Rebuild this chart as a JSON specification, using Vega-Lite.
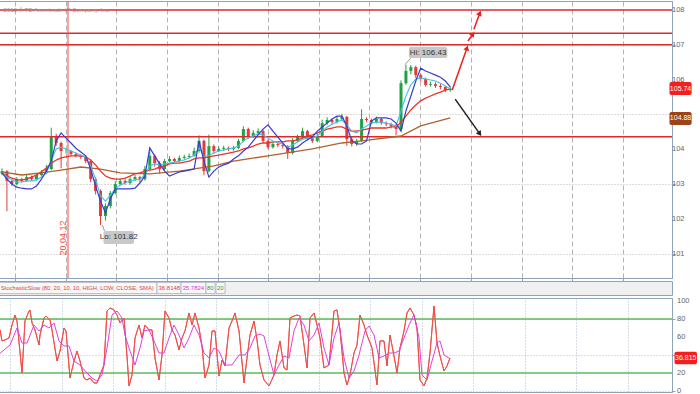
{
"$schema": "https://vega.github.io/schema/vega-lite/v6.json",
"padding": {"left": -5, "top": 0, "right": 0, "bottom": 0},
"background": "white",
"spacing": 3,
"bounds": "flush",
"config": {"font": "Liberation Sans, Arial, sans-serif", "view": {"stroke": null}},
"datasets": {
"px": [
{"i":0,"o":103.30,"h":103.45,"l":103.25,"c":103.37,"b":103.32,"cy":103.32,"r":103.32},
{"i":1,"o":103.37,"h":103.40,"l":102.22,"c":103.09,"b":103.14,"cy":103.20,"r":103.23},
{"i":2,"o":103.09,"h":103.12,"l":102.95,"c":103.00,"b":103.00,"cy":103.12,"r":103.17},
{"i":3,"o":103.00,"h":103.20,"l":102.96,"c":103.14,"b":102.91,"cy":103.06,"r":103.12},
{"i":4,"o":103.14,"h":103.18,"l":103.04,"c":103.09,"b":102.88,"cy":103.06,"r":103.12},
{"i":5,"o":103.09,"h":103.26,"l":103.06,"c":103.20,"b":102.86,"cy":103.09,"r":103.14},
{"i":6,"o":103.20,"h":103.24,"l":103.10,"c":103.14,"b":102.86,"cy":103.09,"r":103.20},
{"i":7,"o":103.14,"h":103.32,"l":103.10,"c":103.26,"b":102.94,"cy":103.12,"r":103.26},
{"i":8,"o":103.26,"h":103.40,"l":103.22,"c":103.32,"b":103.14,"cy":103.20,"r":103.35},
{"i":9,"o":103.32,"h":103.55,"l":103.28,"c":103.43,"b":103.37,"cy":103.32,"r":103.46},
{"i":10,"o":103.43,"h":104.62,"l":103.40,"c":104.38,"b":103.66,"cy":103.66,"r":103.60},
{"i":11,"o":104.38,"h":104.45,"l":104.10,"c":104.18,"b":104.24,"cy":104.01,"r":103.69},
{"i":12,"o":104.18,"h":104.22,"l":103.45,"c":103.95,"b":104.47,"cy":104.06,"r":103.75},
{"i":13,"o":103.95,"h":104.02,"l":103.88,"c":103.95,"b":104.32,"cy":104.01,"r":103.78},
{"i":14,"o":103.95,"h":103.98,"l":103.80,"c":103.86,"b":104.18,"cy":103.95,"r":103.81},
{"i":15,"o":103.86,"h":103.90,"l":103.76,"c":103.81,"b":104.03,"cy":103.89,"r":103.81},
{"i":16,"o":103.81,"h":103.86,"l":103.72,"c":103.78,"b":103.92,"cy":103.83,"r":103.81},
{"i":17,"o":103.78,"h":103.82,"l":103.60,"c":103.66,"b":103.81,"cy":103.78,"r":103.78},
{"i":18,"o":103.66,"h":103.70,"l":103.05,"c":103.14,"b":103.43,"cy":103.52,"r":103.69},
{"i":19,"o":103.14,"h":103.20,"l":102.70,"c":102.80,"b":102.94,"cy":103.14,"r":103.55},
{"i":20,"o":102.80,"h":102.85,"l":101.82,"c":102.08,"b":102.51,"cy":102.66,"r":103.37},
{"i":21,"o":102.08,"h":102.45,"l":101.95,"c":102.37,"b":102.17,"cy":102.51,"r":103.23},
{"i":22,"o":102.37,"h":102.80,"l":102.30,"c":102.74,"b":102.57,"cy":102.68,"r":103.17},
{"i":23,"o":102.74,"h":103.08,"l":102.70,"c":103.00,"b":102.86,"cy":102.86,"r":103.14},
{"i":24,"o":103.00,"h":103.15,"l":102.95,"c":103.09,"b":102.86,"cy":102.97,"r":103.14},
{"i":25,"o":103.09,"h":103.14,"l":102.98,"c":103.03,"b":102.86,"cy":103.03,"r":103.17},
{"i":26,"o":103.03,"h":103.20,"l":102.98,"c":103.14,"b":102.86,"cy":103.09,"r":103.23},
{"i":27,"o":103.14,"h":103.26,"l":103.08,"c":103.20,"b":102.88,"cy":103.12,"r":103.29},
{"i":28,"o":103.20,"h":103.24,"l":103.05,"c":103.14,"b":103.03,"cy":103.14,"r":103.32},
{"i":29,"o":103.14,"h":103.52,"l":103.10,"c":103.43,"b":103.23,"cy":103.26,"r":103.37},
{"i":30,"o":103.43,"h":104.05,"l":103.40,"c":103.81,"b":104.04,"cy":103.52,"r":103.40},
{"i":31,"o":103.81,"h":103.86,"l":103.50,"c":103.60,"b":103.81,"cy":103.58,"r":103.43},
{"i":32,"o":103.60,"h":103.66,"l":103.30,"c":103.43,"b":103.58,"cy":103.55,"r":103.49},
{"i":33,"o":103.43,"h":103.72,"l":103.40,"c":103.66,"b":103.37,"cy":103.58,"r":103.52},
{"i":34,"o":103.66,"h":103.80,"l":103.62,"c":103.72,"b":103.23,"cy":103.60,"r":103.58},
{"i":35,"o":103.72,"h":103.76,"l":103.60,"c":103.66,"b":103.29,"cy":103.63,"r":103.60},
{"i":36,"o":103.66,"h":103.82,"l":103.62,"c":103.75,"b":103.35,"cy":103.66,"r":103.60},
{"i":37,"o":103.75,"h":103.84,"l":103.70,"c":103.78,"b":103.37,"cy":103.69,"r":103.63},
{"i":38,"o":103.78,"h":103.88,"l":103.74,"c":103.81,"b":103.40,"cy":103.75,"r":103.66},
{"i":39,"o":103.81,"h":104.05,"l":103.78,"c":103.95,"b":103.43,"cy":103.83,"r":103.72},
{"i":40,"o":103.95,"h":104.40,"l":103.90,"c":104.24,"b":104.24,"cy":104.04,"r":103.75},
{"i":41,"o":104.24,"h":104.28,"l":103.25,"c":103.37,"b":103.66,"cy":103.78,"r":103.75},
{"i":42,"o":103.37,"h":104.42,"l":103.33,"c":104.09,"b":103.20,"cy":103.83,"r":103.78},
{"i":43,"o":104.09,"h":104.14,"l":103.88,"c":103.95,"b":103.37,"cy":103.89,"r":103.81},
{"i":44,"o":103.95,"h":104.08,"l":103.92,"c":104.01,"b":103.49,"cy":103.95,"r":103.83},
{"i":45,"o":104.01,"h":104.10,"l":103.96,"c":104.04,"b":103.55,"cy":103.98,"r":103.86},
{"i":46,"o":104.04,"h":104.08,"l":103.95,"c":104.01,"b":103.60,"cy":104.01,"r":103.89},
{"i":47,"o":104.01,"h":104.10,"l":103.96,"c":104.04,"b":103.72,"cy":104.04,"r":103.92},
{"i":48,"o":104.04,"h":104.30,"l":104.00,"c":104.24,"b":103.81,"cy":104.09,"r":103.95},
{"i":49,"o":104.24,"h":104.66,"l":104.20,"c":104.58,"b":103.95,"cy":104.24,"r":104.01},
{"i":50,"o":104.58,"h":104.62,"l":104.30,"c":104.38,"b":104.06,"cy":104.32,"r":104.04},
{"i":51,"o":104.38,"h":104.55,"l":104.33,"c":104.47,"b":104.24,"cy":104.38,"r":104.09},
{"i":52,"o":104.47,"h":104.60,"l":104.42,"c":104.52,"b":104.41,"cy":104.44,"r":104.15},
{"i":53,"o":104.52,"h":104.56,"l":104.18,"c":104.24,"b":104.58,"cy":104.41,"r":104.18},
{"i":54,"o":104.24,"h":104.28,"l":104.00,"c":104.06,"b":104.70,"cy":104.32,"r":104.18},
{"i":55,"o":104.06,"h":104.22,"l":104.02,"c":104.15,"b":104.52,"cy":104.24,"r":104.21},
{"i":56,"o":104.15,"h":104.20,"l":104.06,"c":104.12,"b":104.35,"cy":104.18,"r":104.21},
{"i":57,"o":104.12,"h":104.16,"l":104.02,"c":104.09,"b":104.18,"cy":104.15,"r":104.21},
{"i":58,"o":104.09,"h":104.12,"l":103.72,"c":103.89,"b":104.01,"cy":104.06,"r":104.24},
{"i":59,"o":103.89,"h":104.32,"l":103.85,"c":104.24,"b":104.01,"cy":104.12,"r":104.24},
{"i":60,"o":104.24,"h":104.42,"l":104.20,"c":104.35,"b":104.06,"cy":104.21,"r":104.27},
{"i":61,"o":104.35,"h":104.62,"l":104.30,"c":104.52,"b":104.18,"cy":104.29,"r":104.32},
{"i":62,"o":104.52,"h":104.56,"l":104.25,"c":104.32,"b":104.27,"cy":104.32,"r":104.38},
{"i":63,"o":104.32,"h":104.38,"l":104.18,"c":104.24,"b":104.35,"cy":104.32,"r":104.41},
{"i":64,"o":104.24,"h":104.46,"l":104.20,"c":104.38,"b":104.52,"cy":104.38,"r":104.47},
{"i":65,"o":104.38,"h":104.85,"l":104.35,"c":104.75,"b":104.64,"cy":104.52,"r":104.52},
{"i":66,"o":104.75,"h":104.92,"l":104.70,"c":104.84,"b":104.75,"cy":104.64,"r":104.58},
{"i":67,"o":104.84,"h":104.88,"l":104.72,"c":104.78,"b":104.87,"cy":104.72,"r":104.61},
{"i":68,"o":104.78,"h":104.95,"l":104.74,"c":104.87,"b":104.95,"cy":104.78,"r":104.64},
{"i":69,"o":104.87,"h":105.02,"l":104.82,"c":104.93,"b":104.95,"cy":104.84,"r":104.64},
{"i":70,"o":104.93,"h":104.96,"l":104.10,"c":104.29,"b":104.67,"cy":104.70,"r":104.58},
{"i":71,"o":104.29,"h":104.35,"l":104.08,"c":104.15,"b":104.24,"cy":104.52,"r":104.52},
{"i":72,"o":104.15,"h":104.30,"l":104.10,"c":104.24,"b":104.15,"cy":104.47,"r":104.52},
{"i":73,"o":104.24,"h":105.15,"l":104.20,"c":104.87,"b":104.15,"cy":104.58,"r":104.55},
{"i":74,"o":104.87,"h":104.92,"l":104.78,"c":104.84,"b":104.24,"cy":104.67,"r":104.58},
{"i":75,"o":104.84,"h":104.88,"l":104.72,"c":104.78,"b":104.81,"cy":104.75,"r":104.61},
{"i":76,"o":104.78,"h":104.94,"l":104.74,"c":104.87,"b":104.90,"cy":104.78,"r":104.61},
{"i":77,"o":104.87,"h":104.90,"l":104.70,"c":104.75,"b":104.90,"cy":104.78,"r":104.61},
{"i":78,"o":104.75,"h":104.80,"l":104.66,"c":104.72,"b":104.90,"cy":104.75,"r":104.61},
{"i":79,"o":104.72,"h":104.76,"l":104.60,"c":104.67,"b":104.87,"cy":104.72,"r":104.64},
{"i":80,"o":104.67,"h":104.72,"l":104.40,"c":104.58,"b":104.75,"cy":104.67,"r":104.64},
{"i":81,"o":104.58,"h":105.98,"l":104.55,"c":105.90,"b":104.52,"cy":105.10,"r":104.78},
{"i":82,"o":105.90,"h":106.43,"l":105.85,"c":106.25,"b":105.10,"cy":105.53,"r":104.95},
{"i":83,"o":106.25,"h":106.42,"l":106.15,"c":106.36,"b":105.53,"cy":105.85,"r":105.13},
{"i":84,"o":106.36,"h":106.40,"l":106.05,"c":106.13,"b":105.96,"cy":106.02,"r":105.27},
{"i":85,"o":106.13,"h":106.18,"l":105.95,"c":106.02,"b":106.33,"cy":106.05,"r":105.39},
{"i":86,"o":106.02,"h":106.06,"l":105.80,"c":105.85,"b":106.25,"cy":106.02,"r":105.47},
{"i":87,"o":105.85,"h":105.94,"l":105.80,"c":105.87,"b":106.19,"cy":105.99,"r":105.53},
{"i":88,"o":105.87,"h":105.92,"l":105.76,"c":105.82,"b":106.13,"cy":105.96,"r":105.59},
{"i":89,"o":105.82,"h":105.88,"l":105.72,"c":105.79,"b":106.07,"cy":105.90,"r":105.64},
{"i":90,"o":105.79,"h":105.82,"l":105.64,"c":105.70,"b":105.96,"cy":105.82,"r":105.70},
{"i":91,"o":105.70,"h":105.80,"l":105.65,"c":105.74,"b":105.79,"cy":105.73,"r":105.73}
],
"brown": [
{"i":0,"v":103.35},{"i":4,"v":103.26},{"i":8,"v":103.32},{"i":12,"v":103.40},{"i":16,"v":103.49},{"i":20,"v":103.43},{"i":24,"v":103.32},{"i":30,"v":103.29},{"i":36,"v":103.37},{"i":43,"v":103.52},{"i":47,"v":103.66},{"i":54,"v":103.81},{"i":63,"v":104.01},{"i":69,"v":104.18},{"i":73,"v":104.24},{"i":81,"v":104.38},{"i":85,"v":104.67},{"i":91,"v":104.90}
],
"k": [
{"t":0,"v":47.8},{"t":0.6,"v":67.8},{"t":1.0,"v":55.6},{"t":1.6,"v":56.7},{"t":2.4,"v":58.9},{"t":3.0,"v":73.3},{"t":3.6,"v":84.4},{"t":4.0,"v":77.8},{"t":5.0,"v":20.0},{"t":5.6,"v":77.8},{"t":6.4,"v":88.9},{"t":6.6,"v":90.0},{"t":7.0,"v":75.6},{"t":7.6,"v":67.8},{"t":8.4,"v":51.1},{"t":8.6,"v":62.2},{"t":9.4,"v":81.1},{"t":9.8,"v":83.3},{"t":10.6,"v":78.9},{"t":11.0,"v":67.8},{"t":12.0,"v":33.3},{"t":12.6,"v":44.4},{"t":13.4,"v":70.0},{"t":13.8,"v":66.7},{"t":14.6,"v":14.4},{"t":15.4,"v":33.3},{"t":16.0,"v":44.4},{"t":16.6,"v":33.3},{"t":17.4,"v":14.4},{"t":18.0,"v":12.2},{"t":18.6,"v":14.4},{"t":19.4,"v":8.9},{"t":20.0,"v":8.9},{"t":20.6,"v":17.8},{"t":21.4,"v":28.9},{"t":22.0,"v":88.9},{"t":22.6,"v":92.2},{"t":23.4,"v":90.0},{"t":24.0,"v":84.4},{"t":24.6,"v":75.6},{"t":25.4,"v":81.1},{"t":26.0,"v":38.9},{"t":26.4,"v":5.6},{"t":27.0,"v":17.8},{"t":27.6,"v":58.9},{"t":28.4,"v":73.3},{"t":29.0,"v":58.9},{"t":29.6,"v":73.3},{"t":30.4,"v":67.8},{"t":31.0,"v":67.8},{"t":31.6,"v":36.7},{"t":32.4,"v":12.2},{"t":33.0,"v":40.0},{"t":33.6,"v":88.9},{"t":34.4,"v":81.1},{"t":35.0,"v":67.8},{"t":35.6,"v":62.2},{"t":36.4,"v":45.6},{"t":37.0,"v":58.9},{"t":37.6,"v":66.7},{"t":38.4,"v":86.7},{"t":39.0,"v":73.3},{"t":39.6,"v":86.7},{"t":40.4,"v":70.0},{"t":41.0,"v":50.0},{"t":41.6,"v":14.4},{"t":42.4,"v":28.9},{"t":43.0,"v":66.7},{"t":43.6,"v":66.7},{"t":44.4,"v":16.7},{"t":45.0,"v":34.4},{"t":45.6,"v":27.8},{"t":46.4,"v":70.0},{"t":47.0,"v":77.8},{"t":47.6,"v":86.7},{"t":48.4,"v":66.7},{"t":49.4,"v":8.9},{"t":50.0,"v":36.7},{"t":50.6,"v":62.2},{"t":51.4,"v":77.8},{"t":52.0,"v":56.7},{"t":52.6,"v":28.9},{"t":53.4,"v":12.2},{"t":54.4,"v":5.6},{"t":55.4,"v":17.8},{"t":56.0,"v":40.0},{"t":56.6,"v":55.6},{"t":57.4,"v":25.6},{"t":58.0,"v":23.3},{"t":58.6,"v":81.1},{"t":59.4,"v":83.3},{"t":60.0,"v":84.4},{"t":60.6,"v":83.3},{"t":61.4,"v":51.1},{"t":62.0,"v":25.6},{"t":62.6,"v":81.1},{"t":63.4,"v":86.7},{"t":64.0,"v":73.3},{"t":64.6,"v":58.9},{"t":65.4,"v":25.6},{"t":66.4,"v":28.9},{"t":67.4,"v":88.9},{"t":68.0,"v":90.0},{"t":68.6,"v":67.8},{"t":69.4,"v":20.0},{"t":70.0,"v":6.7},{"t":70.6,"v":17.8},{"t":71.4,"v":42.2},{"t":72.0,"v":51.1},{"t":72.6,"v":84.4},{"t":73.4,"v":73.3},{"t":74.0,"v":62.2},{"t":75.0,"v":47.8},{"t":76.0,"v":6.7},{"t":76.6,"v":55.6},{"t":77.4,"v":55.6},{"t":78.0,"v":27.8},{"t":78.6,"v":62.2},{"t":79.4,"v":38.9},{"t":80.0,"v":20.0},{"t":80.6,"v":47.8},{"t":81.4,"v":66.7},{"t":82.0,"v":86.7},{"t":82.6,"v":92.2},{"t":83.4,"v":84.4},{"t":84.0,"v":70.0},{"t":84.6,"v":12.2},{"t":85.4,"v":5.6},{"t":86.0,"v":14.4},{"t":86.6,"v":42.2},{"t":87.4,"v":94.4},{"t":88.0,"v":53.3},{"t":88.6,"v":38.9},{"t":89.4,"v":22.2},{"t":90.0,"v":27.8},{"t":90.6,"v":36.8}
],
"d": [
{"t":0,"v":38.9},{"t":1.4,"v":45.6},{"t":2.6,"v":51.1},{"t":4.0,"v":70.0},{"t":5.0,"v":53.3},{"t":6.0,"v":53.3},{"t":7.4,"v":73.3},{"t":8.4,"v":66.7},{"t":9.4,"v":73.3},{"t":10.4,"v":70.0},{"t":11.4,"v":75.6},{"t":12.4,"v":55.6},{"t":13.4,"v":50.0},{"t":14.4,"v":50.0},{"t":15.4,"v":33.3},{"t":16.6,"v":28.9},{"t":18.0,"v":20.0},{"t":19.0,"v":14.4},{"t":20.0,"v":11.1},{"t":21.0,"v":17.8},{"t":22.0,"v":47.8},{"t":23.0,"v":84.4},{"t":24.0,"v":88.9},{"t":25.0,"v":81.1},{"t":25.6,"v":62.2},{"t":26.6,"v":44.4},{"t":27.6,"v":28.9},{"t":28.6,"v":47.8},{"t":29.4,"v":66.7},{"t":30.4,"v":67.8},{"t":31.4,"v":55.6},{"t":32.4,"v":42.2},{"t":33.4,"v":42.2},{"t":34.4,"v":58.9},{"t":35.4,"v":73.3},{"t":36.4,"v":62.2},{"t":37.4,"v":47.8},{"t":38.4,"v":58.9},{"t":39.4,"v":73.3},{"t":40.4,"v":62.2},{"t":41.4,"v":42.2},{"t":42.4,"v":36.7},{"t":43.4,"v":47.8},{"t":44.4,"v":44.4},{"t":45.6,"v":28.9},{"t":47.0,"v":28.9},{"t":48.4,"v":40.0},{"t":49.6,"v":40.0},{"t":50.6,"v":47.8},{"t":51.6,"v":61.1},{"t":52.6,"v":63.3},{"t":53.4,"v":61.1},{"t":54.4,"v":38.9},{"t":55.4,"v":17.8},{"t":56.4,"v":28.9},{"t":57.4,"v":38.9},{"t":58.4,"v":36.7},{"t":59.4,"v":66.7},{"t":60.4,"v":81.1},{"t":61.4,"v":73.3},{"t":62.4,"v":55.6},{"t":63.4,"v":62.2},{"t":64.4,"v":75.6},{"t":65.4,"v":47.8},{"t":66.4,"v":28.9},{"t":67.4,"v":58.9},{"t":68.4,"v":75.6},{"t":69.4,"v":36.7},{"t":70.4,"v":14.4},{"t":71.4,"v":22.2},{"t":72.4,"v":40.0},{"t":73.6,"v":66.7},{"t":74.4,"v":72.2},{"t":75.4,"v":62.2},{"t":76.4,"v":36.7},{"t":77.4,"v":38.9},{"t":78.4,"v":42.2},{"t":79.4,"v":42.2},{"t":80.4,"v":44.4},{"t":81.4,"v":58.9},{"t":82.4,"v":73.3},{"t":83.4,"v":84.4},{"t":84.4,"v":58.9},{"t":85.0,"v":17.8},{"t":86.0,"v":12.2},{"t":87.0,"v":33.3},{"t":88.0,"v":53.3},{"t":88.6,"v":55.6},{"t":89.4,"v":40.0},{"t":90.6,"v":35.8}
]
},
"vconcat": [
{
"width": 675, "height": 277,
"view": {"stroke": "#8fa3bd"},
"layer": [
{"data": {"name": "px"}, "mark": {"type": "rule", "strokeWidth": 1, "clip": true},
 "encoding": {
  "x": {"field": "i", "type": "quantitative", "scale": {"domain": [0, 135], "nice": false, "zero": false},
        "axis": {"orient": "bottom", "values": [2.6, 12.9, 23.2, 33.5, 43.8, 54.1, 64.3, 74.6, 84.9, 95.2, 105.5, 115.8, 126.1], "grid": true, "gridDash": [5, 3], "gridColor": "#b4b4b4", "labels": false, "ticks": true, "tickSize": 3, "tickColor": "#8fa3bd", "domainColor": "#8fa3bd", "title": null}},
  "y": {"field": "l", "type": "quantitative", "scale": {"domain": [100.3, 108.26], "nice": false, "zero": false},
        "axis": {"orient": "right", "values": [101, 102, 103, 104, 105, 106, 107, 108], "labels": false, "grid": true, "gridDash": [1, 2], "gridColor": "#b8b8b8", "domainColor": "#8fa3bd", "tickColor": "#8fa3bd", "tickSize": 3, "title": null}},
  "y2": {"field": "h"},
  "color": {"condition": {"test": "datum.c >= datum.o", "value": "#22a045"}, "value": "#e23b3b"}
 }},
{"data": {"name": "px"}, "mark": {"type": "bar", "width": 3, "clip": true},
 "encoding": {
  "x": {"field": "i", "type": "quantitative", "axis": {"orient": "bottom"}},
  "y": {"field": "o", "type": "quantitative", "axis": {"orient": "right"}},
  "y2": {"field": "c"},
  "color": {"condition": {"test": "datum.c >= datum.o", "value": "#22a045"}, "value": "#e23b3b"}
 }},
{"data": {"values": [{"y": 108.0}, {"y": 107.33}, {"y": 107.0}, {"y": 104.36}]}, "mark": {"type": "rule", "color": "#e02828", "strokeWidth": 1.5},
 "encoding": {"y": {"field": "y", "type": "quantitative", "axis": {"orient": "right"}}}},
{"data": {"values": [{"t": 13.4}]}, "mark": {"type": "rule", "color": "#f04848", "strokeWidth": 1},
 "encoding": {"x": {"field": "t", "type": "quantitative", "axis": {"orient": "bottom"}}}},
{"data": {"name": "brown"}, "mark": {"type": "line", "color": "#b0612e", "strokeWidth": 1.3, "clip": true},
 "encoding": {"x": {"field": "i", "type": "quantitative", "axis": {"orient": "bottom"}}, "y": {"field": "v", "type": "quantitative", "axis": {"orient": "right"}}}},
{"data": {"name": "px"}, "mark": {"type": "line", "color": "#e8342c", "strokeWidth": 1.3, "clip": true},
 "encoding": {"x": {"field": "i", "type": "quantitative", "axis": {"orient": "bottom"}}, "y": {"field": "r", "type": "quantitative", "axis": {"orient": "right"}}}},
{"data": {"name": "px"}, "mark": {"type": "line", "color": "#40c4e4", "strokeWidth": 1.1, "clip": true},
 "encoding": {"x": {"field": "i", "type": "quantitative", "axis": {"orient": "bottom"}}, "y": {"field": "cy", "type": "quantitative", "axis": {"orient": "right"}}}},
{"data": {"name": "px"}, "mark": {"type": "line", "color": "#3b3bd0", "strokeWidth": 1.2, "clip": true},
 "encoding": {"x": {"field": "i", "type": "quantitative", "axis": {"orient": "bottom"}}, "y": {"field": "b", "type": "quantitative", "axis": {"orient": "right"}}}},
{"data": {"values": [
  {"x": 91.4, "y": 105.70, "x2": 94.4, "y2": 106.91, "col": "#e8201c"},
  {"x": 94.6, "y": 107.11, "x2": 95.6, "y2": 107.31, "col": "#e8201c"},
  {"x": 95.8, "y": 107.45, "x2": 97.0, "y2": 107.91, "col": "#e8201c"},
  {"x": 92.0, "y": 105.44, "x2": 97.0, "y2": 104.44, "col": "#222222"}]},
 "mark": {"type": "rule", "strokeWidth": 1.5},
 "encoding": {
  "x": {"field": "x", "type": "quantitative", "axis": {"orient": "bottom"}}, "x2": {"field": "x2"},
  "y": {"field": "y", "type": "quantitative", "axis": {"orient": "right"}}, "y2": {"field": "y2"},
  "color": {"field": "col", "type": "nominal", "scale": null}}},
{"data": {"values": [
  {"x": 94.4, "y": 106.91, "a": 19, "col": "#e8201c"},
  {"x": 95.6, "y": 107.31, "a": 35, "col": "#e8201c"},
  {"x": 97.0, "y": 107.91, "a": 24, "col": "#e8201c"},
  {"x": 97.0, "y": 104.44, "a": 144, "col": "#222222"}]},
 "mark": {"type": "point", "shape": "triangle-up", "filled": true, "size": 35, "opacity": 1},
 "encoding": {
  "x": {"field": "x", "type": "quantitative", "axis": {"orient": "bottom"}}, "y": {"field": "y", "type": "quantitative", "axis": {"orient": "right"}},
  "angle": {"field": "a", "type": "quantitative", "scale": null},
  "color": {"field": "col", "type": "nominal", "scale": null}}},
{"data": {"values": [
  {"x": 83.0, "y": 106.62, "x2": 81.8, "y2": 106.43},
  {"x": 20.8, "y": 101.65, "x2": 20.4, "y2": 101.82}]},
 "mark": {"type": "rule", "color": "#999999", "strokeWidth": 1},
 "encoding": {"x": {"field": "x", "type": "quantitative", "axis": {"orient": "bottom"}}, "x2": {"field": "x2"}, "y": {"field": "y", "type": "quantitative", "axis": {"orient": "right"}}, "y2": {"field": "y2"}}},
{"data": {"values": [{"v": 101}, {"v": 102}, {"v": 103}, {"v": 104}, {"v": 106}, {"v": 107}, {"v": 108}]},
 "mark": {"type": "text", "align": "left", "baseline": "middle", "fontSize": 7.5, "color": "#666666", "dx": 2},
 "encoding": {
  "x": {"datum": 135.6, "type": "quantitative", "axis": {"orient": "bottom"}},
  "y": {"field": "v", "type": "quantitative", "axis": {"orient": "right"}},
  "text": {"field": "v"}}},
{"data": {"values": [
  {"x": 82.6, "x2": 90.4, "y": 106.94, "y2": 106.62, "f": "#c8c8c8"},
  {"x": 20.6, "x2": 26.8, "y": 101.65, "y2": 101.28, "f": "#c8c8c8"},
  {"x": 135.5, "x2": 140, "y": 105.93, "y2": 105.56, "f": "#f51d1d"},
  {"x": 135.5, "x2": 140, "y": 105.07, "y2": 104.70, "f": "#9c4418"}]},
 "mark": {"type": "rect", "cornerRadius": 2},
 "encoding": {
  "x": {"field": "x", "type": "quantitative", "axis": {"orient": "bottom"}}, "x2": {"field": "x2"},
  "y": {"field": "y", "type": "quantitative", "axis": {"orient": "right"}}, "y2": {"field": "y2"},
  "fill": {"field": "f", "type": "nominal", "scale": null}}},
{"data": {"values": [
  {"x": 86.5, "y": 106.78, "t": "Hi: 106.43", "col": "#333333", "fs": 8},
  {"x": 23.7, "y": 101.465, "t": "Lo: 101.82", "col": "#333333", "fs": 8},
  {"x": 137.75, "y": 105.745, "t": "105.74", "col": "#ffffff", "fs": 7},
  {"x": 137.75, "y": 104.885, "t": "104.88", "col": "#ffffff", "fs": 7}]},
 "mark": {"type": "text", "align": "center", "baseline": "middle"},
 "encoding": {
  "x": {"field": "x", "type": "quantitative", "axis": {"orient": "bottom"}}, "y": {"field": "y", "type": "quantitative", "axis": {"orient": "right"}},
  "text": {"field": "t"},
  "size": {"field": "fs", "type": "quantitative", "scale": null},
  "color": {"field": "col", "type": "nominal", "scale": null}}},
{"data": {"values": [{"x": 12.3, "y": 101.45, "t": "20.04.12"}]},
 "mark": {"type": "text", "fontSize": 9, "angle": 270, "align": "center", "baseline": "middle", "color": "#f04848"},
 "encoding": {"x": {"field": "x", "type": "quantitative", "axis": {"orient": "bottom"}}, "y": {"field": "y", "type": "quantitative", "axis": {"orient": "right"}}, "text": {"field": "t"}}},
{"data": {"values": [{"x": 0.3, "y": 108.0, "t": "2012 © TD Ameritrade IP Company, Inc."}]},
 "mark": {"type": "text", "fontSize": 6, "align": "left", "baseline": "middle", "color": "#9a9a9a"},
 "encoding": {"x": {"field": "x", "type": "quantitative", "axis": {"orient": "bottom"}}, "y": {"field": "y", "type": "quantitative", "axis": {"orient": "right"}}, "text": {"field": "t"}}}
]
},
{
"width": 675, "height": 14,
"view": {"fill": "#f0f0f0", "stroke": "#8fa3bd"},
"layer": [
{"data": {"values": [
  {"x": 0.4, "x2": 32.0}, {"x": 32.0, "x2": 36.8}, {"x": 36.8, "x2": 41.8}, {"x": 41.8, "x2": 43.6}, {"x": 43.8, "x2": 45.6}]},
 "mark": {"type": "rect", "fill": "#f7f7f7", "stroke": "#a8b0c0", "strokeWidth": 0.8},
 "encoding": {
  "x": {"field": "x", "type": "quantitative", "scale": {"domain": [0, 135], "nice": false, "zero": false}, "axis": null},
  "x2": {"field": "x2"},
  "y": {"datum": 0.1, "type": "quantitative", "scale": {"domain": [0, 1], "nice": false, "zero": false}, "axis": null},
  "y2": {"datum": 0.9}}},
{"data": {"values": [
  {"x": 0.8, "t": "StochasticSlow (80, 20, 10, 10, HIGH, LOW, CLOSE, SMA)", "col": "#e0443c", "fs": 5.8},
  {"x": 32.3, "t": "36.8148", "col": "#e0443c", "fs": 6},
  {"x": 37.1, "t": "35.7824", "col": "#d040d0", "fs": 6},
  {"x": 42.0, "t": "80", "col": "#3a9a3a", "fs": 6},
  {"x": 44.0, "t": "20", "col": "#3a9a3a", "fs": 6}]},
 "mark": {"type": "text", "align": "left", "baseline": "middle"},
 "encoding": {
  "x": {"field": "x", "type": "quantitative", "scale": {"domain": [0, 135], "nice": false, "zero": false}, "axis": null},
  "y": {"datum": 0.5, "type": "quantitative", "scale": {"domain": [0, 1], "nice": false, "zero": false}, "axis": null},
  "text": {"field": "t"},
  "size": {"field": "fs", "type": "quantitative", "scale": null},
  "color": {"field": "col", "type": "nominal", "scale": null}}}
]
},
{
"width": 675, "height": 94,
"view": {"stroke": "#8fa3bd"},
"layer": [
{"data": {"name": "k"}, "mark": {"type": "line", "color": "#f0504a", "strokeWidth": 1, "clip": true},
 "encoding": {
  "x": {"field": "t", "type": "quantitative", "scale": {"domain": [0, 135], "nice": false, "zero": false},
        "axis": {"orient": "top", "values": [2.6, 12.9, 23.2, 33.5, 43.8, 54.1, 64.3, 74.6, 84.9, 95.2, 105.5, 115.8, 126.1], "grid": true, "gridDash": [1, 2], "gridColor": "#a8b8d0", "labels": false, "ticks": false, "domain": false, "title": null}},
  "y": {"field": "v", "type": "quantitative", "scale": {"domain": [-1.1, 103.3], "nice": false, "zero": false},
        "axis": {"orient": "right", "values": [0, 20, 40, 60, 80, 100], "labels": false, "grid": true, "gridDash": [1, 2], "gridColor": "#b8c0d0", "domainColor": "#8fa3bd", "tickColor": "#8fa3bd", "tickSize": 3, "title": null}}}},
{"data": {"values": [{"v": 80}, {"v": 20}]}, "mark": {"type": "rule", "color": "#5cb85c", "strokeWidth": 1.5},
 "encoding": {"y": {"field": "v", "type": "quantitative", "axis": {"orient": "right"}}}},
{"data": {"name": "k"}, "mark": {"type": "line", "color": "#f0504a", "strokeWidth": 1, "clip": true},
 "encoding": {"x": {"field": "t", "type": "quantitative", "axis": {"orient": "top"}}, "y": {"field": "v", "type": "quantitative", "axis": {"orient": "right"}}}},
{"data": {"name": "d"}, "mark": {"type": "line", "color": "#e040e0", "strokeWidth": 1, "clip": true},
 "encoding": {"x": {"field": "t", "type": "quantitative", "axis": {"orient": "top"}}, "y": {"field": "v", "type": "quantitative", "axis": {"orient": "right"}}}},
{"data": {"values": [{"v": 0}, {"v": 20}, {"v": 60}, {"v": 80}, {"v": 100}]},
 "mark": {"type": "text", "align": "left", "baseline": "middle", "fontSize": 7.5, "color": "#666666", "dx": 2},
 "encoding": {
  "x": {"datum": 135.6, "type": "quantitative", "axis": {"orient": "top"}},
  "y": {"field": "v", "type": "quantitative", "axis": {"orient": "right"}},
  "text": {"field": "v"}}},
{"data": {"values": [{"x": 135.5, "x2": 140, "y": 43.6, "y2": 29.6}]},
 "mark": {"type": "rect", "fill": "#f51d1d", "cornerRadius": 2},
 "encoding": {"x": {"field": "x", "type": "quantitative", "axis": {"orient": "top"}}, "x2": {"field": "x2"}, "y": {"field": "y", "type": "quantitative", "axis": {"orient": "right"}}, "y2": {"field": "y2"}}},
{"data": {"values": [{"x": 137.75, "y": 36.6, "t": "36.815"}]},
 "mark": {"type": "text", "fontSize": 7, "align": "center", "baseline": "middle", "color": "#ffffff"},
 "encoding": {"x": {"field": "x", "type": "quantitative", "axis": {"orient": "top"}}, "y": {"field": "y", "type": "quantitative", "axis": {"orient": "right"}}, "text": {"field": "t"}}}
]
}
]
}
